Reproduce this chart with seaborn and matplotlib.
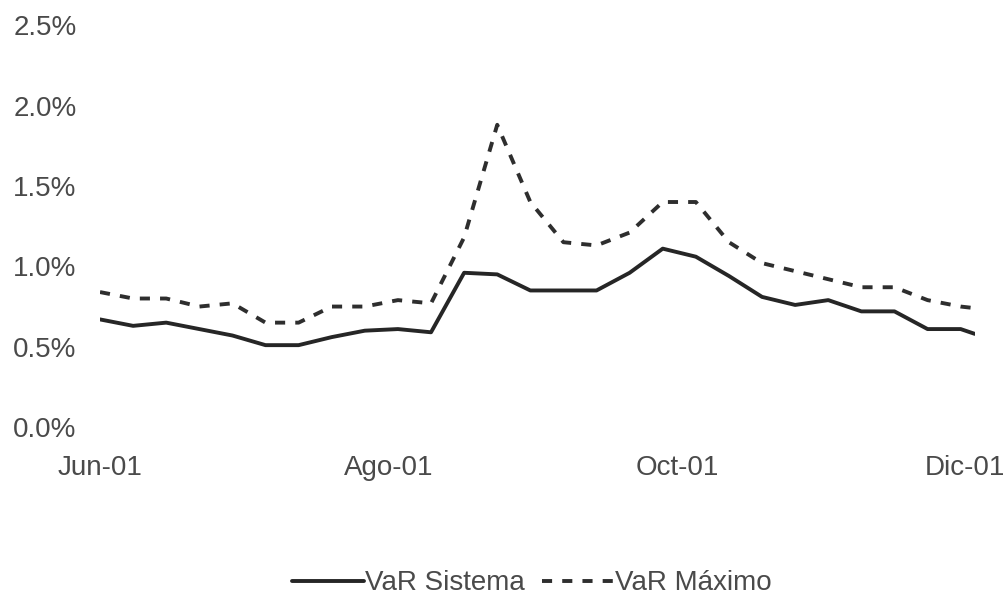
import pandas as pd
import seaborn as sns
import matplotlib.pyplot as plt
from matplotlib.ticker import FuncFormatter

# weekly observations, Jun-01 to Dic-01
fechas = ["2001-06-01", "2001-06-08", "2001-06-15", "2001-06-22", "2001-06-29",
          "2001-07-06", "2001-07-13", "2001-07-20", "2001-07-27", "2001-08-03",
          "2001-08-10", "2001-08-17", "2001-08-24", "2001-08-31", "2001-09-07",
          "2001-09-14", "2001-09-21", "2001-09-28", "2001-10-05", "2001-10-12",
          "2001-10-19", "2001-10-26", "2001-11-02", "2001-11-09", "2001-11-16",
          "2001-11-23", "2001-11-30", "2001-12-03"]
var_sistema = [0.67, 0.63, 0.65, 0.61, 0.57, 0.51, 0.51, 0.56, 0.60, 0.61,
               0.59, 0.96, 0.95, 0.85, 0.85, 0.85, 0.96, 1.11, 1.06, 0.94,
               0.81, 0.76, 0.79, 0.72, 0.72, 0.61, 0.61, 0.58]
var_maximo = [0.84, 0.80, 0.80, 0.75, 0.77, 0.65, 0.65, 0.75, 0.75, 0.79,
              0.77, 1.18, 1.88, 1.40, 1.15, 1.13, 1.21, 1.40, 1.40, 1.15,
              1.02, 0.97, 0.92, 0.87, 0.87, 0.79, 0.75, 0.74]
x_ticks = ["2001-06-01", "2001-08-01", "2001-10-01", "2001-12-01"]
x_labels = ["Jun-01", "Ago-01", "Oct-01", "Dic-01"]
y_ticks = [0.0, 0.5, 1.0, 1.5, 2.0, 2.5]

df = pd.DataFrame({"fecha": pd.to_datetime(fechas),
                   "VaR Sistema": var_sistema,
                   "VaR Máximo": var_maximo})
long_df = df.melt(id_vars="fecha", var_name="serie", value_name="var")

sns.set_style("white")
plt.rcParams["font.family"] = ["Liberation Sans", "DejaVu Sans"]

fig = plt.figure(figsize=(10.05, 6.12), dpi=100)
ax = fig.add_axes([0.0995, 0.302, 0.8705, 0.657])

sns.lineplot(data=long_df, x="fecha", y="var", hue="serie", style="serie",
             palette={"VaR Sistema": "#262626", "VaR Máximo": "#2e2e2e"},
             dashes={"VaR Sistema": "", "VaR Máximo": (2.6, 2.6)},
             linewidth=2.8, ax=ax, legend=False)

ax.set_xlim(pd.Timestamp("2001-06-01"), pd.Timestamp("2001-12-03"))
ax.set_ylim(0, 2.5)
ax.set_xticks(pd.to_datetime(x_ticks))
ax.set_xticklabels(x_labels)
ax.set_yticks(y_ticks)
ax.yaxis.set_major_formatter(FuncFormatter(lambda v, p: f"{v:.1f}%"))
ax.set_xlabel("")
ax.set_ylabel("")
for s in ax.spines.values():
    s.set_visible(False)
ax.tick_params(axis="y", labelsize=20, labelcolor="#4a4a4a", pad=17, length=0)
ax.tick_params(axis="x", labelsize=20, labelcolor="#4a4a4a", pad=20, length=0)

handles = [plt.Line2D([], [], color="#262626", lw=2.8),
           plt.Line2D([], [], color="#2e2e2e", lw=2.8, dashes=(2.6, 2.6))]
fig.legend(handles, ["VaR Sistema", "VaR Máximo"], loc="center",
           bbox_to_anchor=(0.529, 0.047), ncol=2, frameon=False,
           fontsize=20, handlelength=2.6, handletextpad=0.05,
           columnspacing=0.6, labelcolor="#4a4a4a")

plt.savefig("out.png", dpi=100)
